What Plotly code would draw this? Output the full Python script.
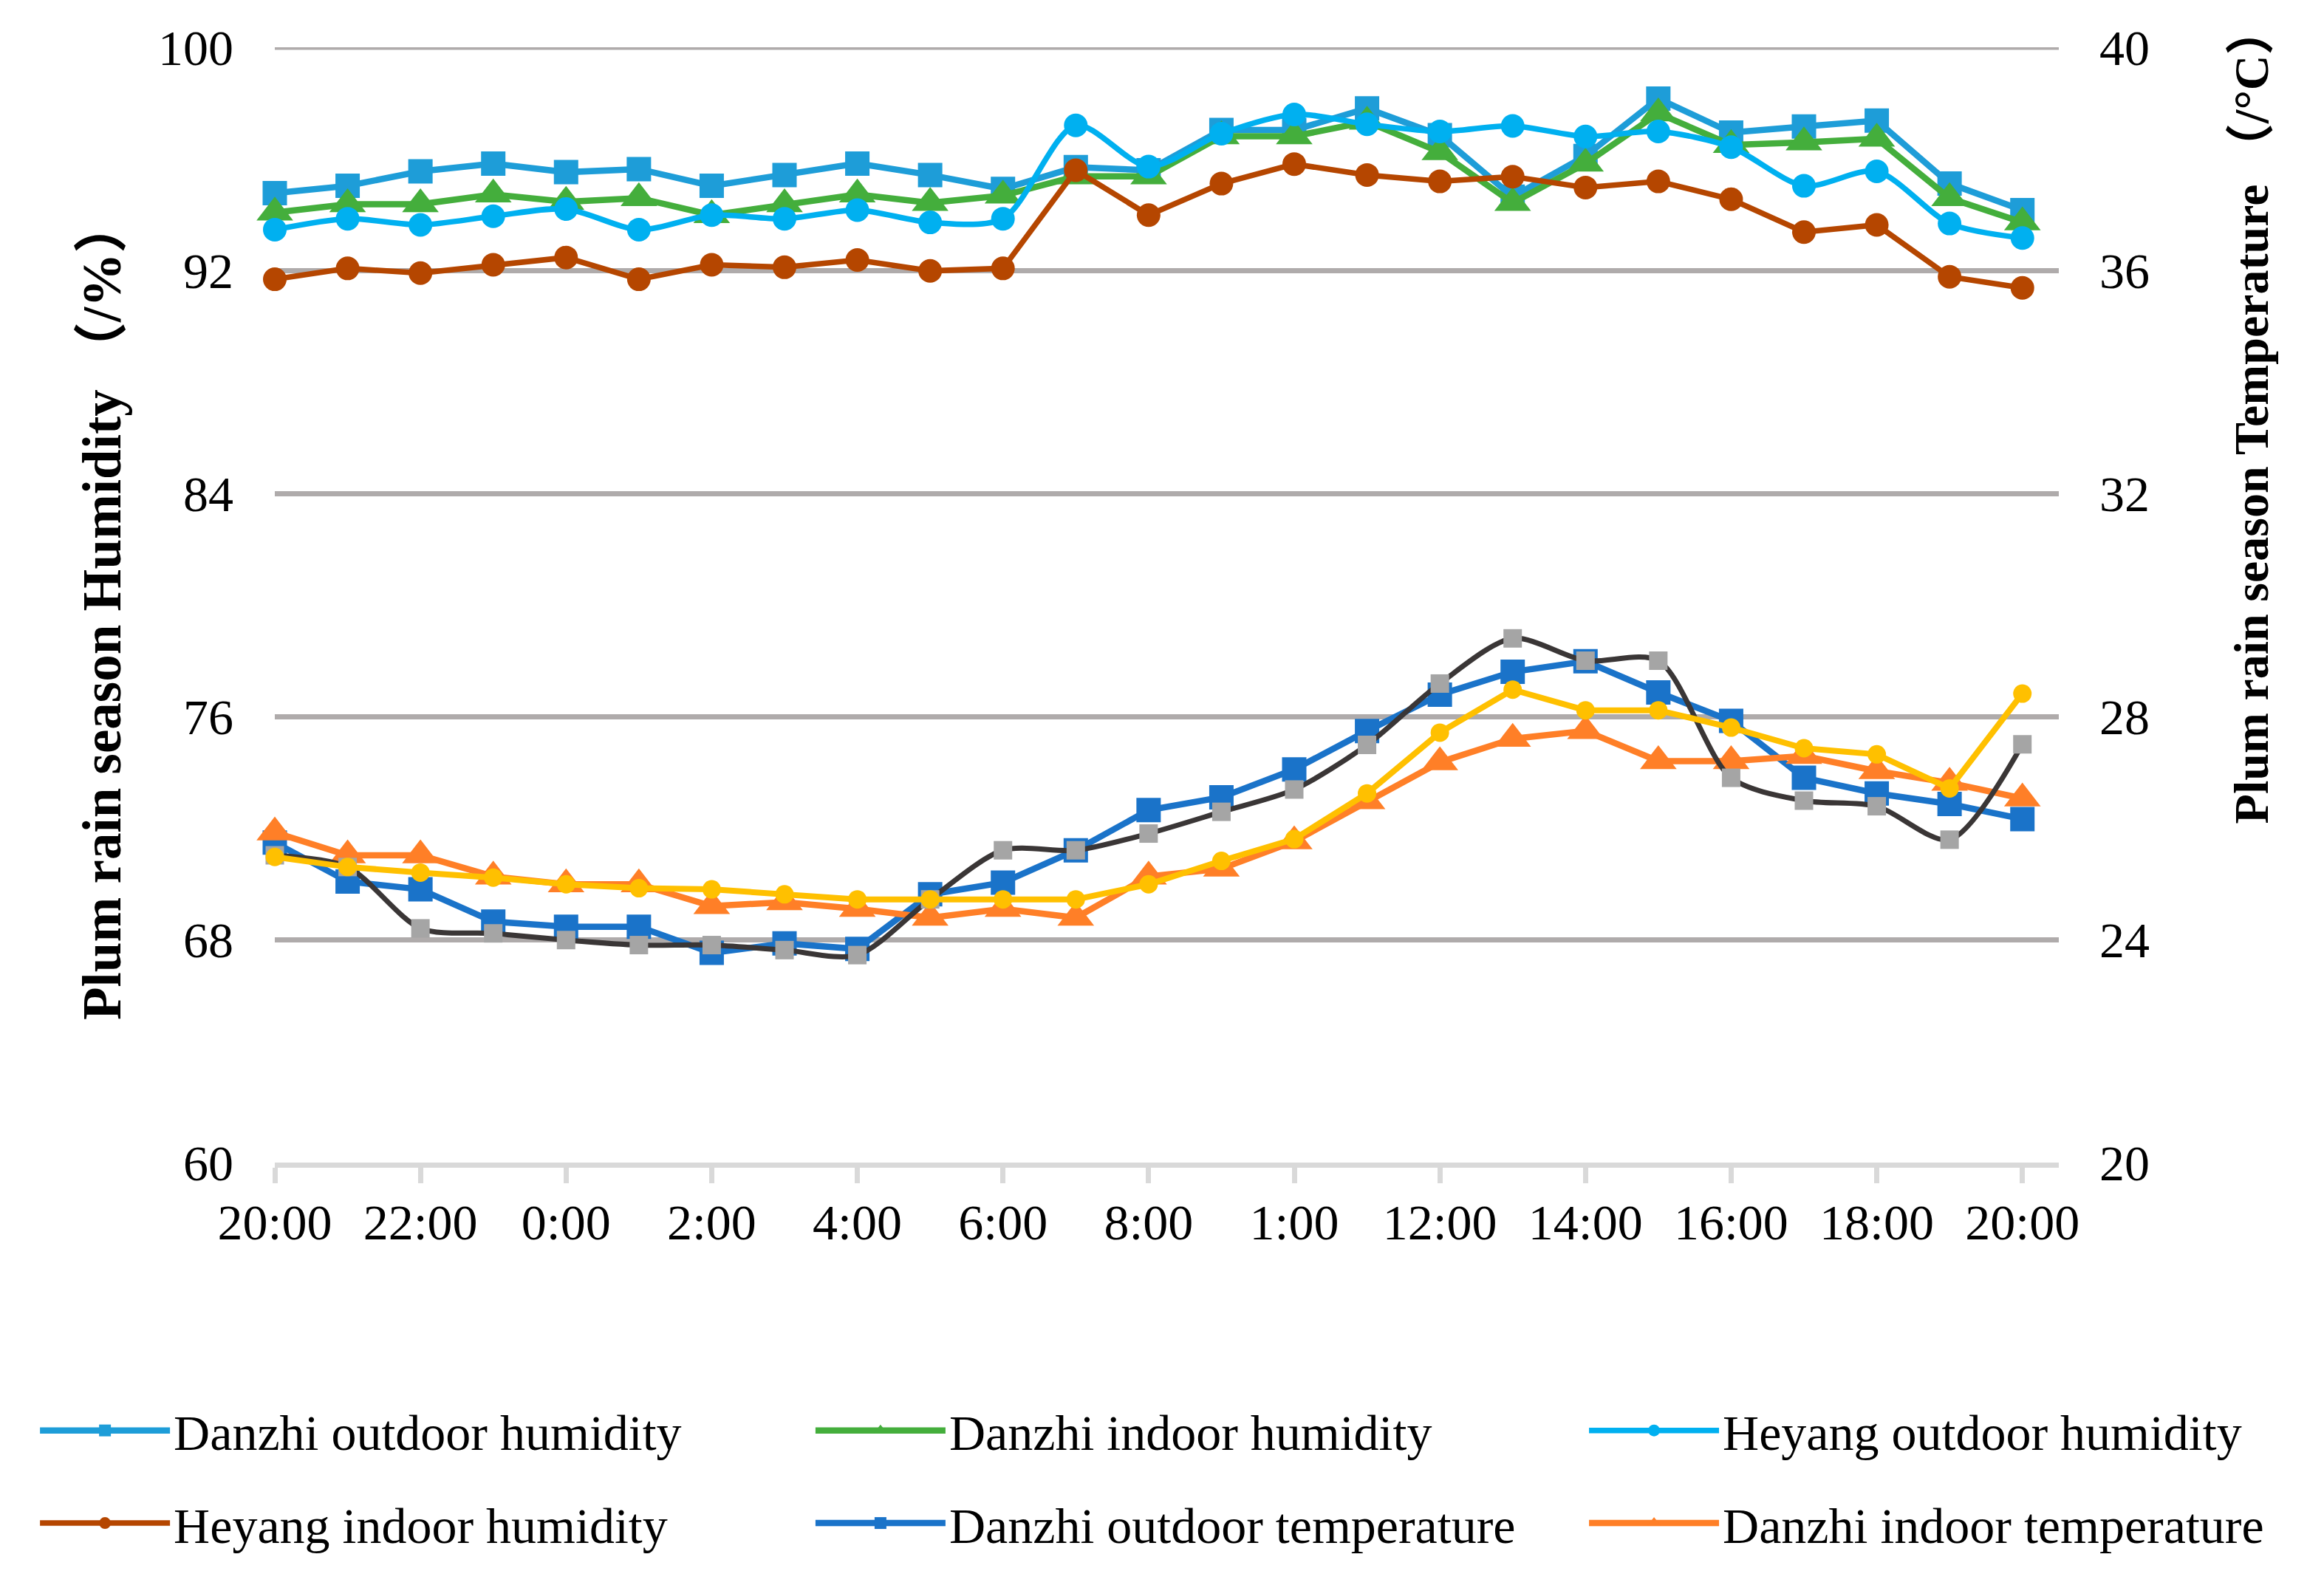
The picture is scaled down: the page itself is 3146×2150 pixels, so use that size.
import plotly.graph_objects as go

hours = ["20:00", "21:00", "22:00", "23:00", "0:00", "1:00", "2:00", "3:00", "4:00",
         "5:00", "6:00", "7:00", "8:00", "9:00", "10:00", "11:00", "12:00", "13:00",
         "14:00", "15:00", "16:00", "17:00", "18:00", "19:00", "20:00"]
tick_labels = ["20:00", "22:00", "0:00", "2:00", "4:00", "6:00", "8:00", "1:00",
               "12:00", "14:00", "16:00", "18:00", "20:00"]

danzhi_out_hum = [94.77, 95.03, 95.55, 95.83, 95.52, 95.63, 95.03, 95.42, 95.83, 95.42, 94.92, 95.70,
                  95.59, 97.03, 97.03, 97.81, 96.85, 94.64, 96.10, 98.16, 96.94, 97.16, 97.37, 95.11, 94.16]
danzhi_in_hum = [94.07, 94.37, 94.37, 94.72, 94.46, 94.59, 93.98, 94.37, 94.72, 94.42, 94.68, 95.37,
                 95.37, 96.81, 96.81, 97.33, 96.24, 94.42, 95.83, 97.63, 96.50, 96.59, 96.72, 94.59, 93.72]
heyang_out_hum = [93.46, 93.85, 93.63, 93.94, 94.20, 93.46, 93.98, 93.85, 94.16, 93.72, 93.85, 97.20,
                  95.72, 96.90, 97.59, 97.24, 96.98, 97.18, 96.80, 96.98, 96.42, 95.03, 95.55, 93.68, 93.16]
heyang_in_hum = [91.68, 92.07, 91.90, 92.20, 92.46, 91.68, 92.20, 92.11, 92.37, 91.98, 92.07, 95.59,
                 93.98, 95.11, 95.81, 95.42, 95.19, 95.36, 94.97, 95.19, 94.55, 93.37, 93.63, 91.77, 91.37]
danzhi_out_temp = [25.74, 25.04, 24.90, 24.32, 24.23, 24.23, 23.76, 23.93, 23.83, 24.81, 25.02, 25.60,
                   26.32, 26.55, 27.05, 27.74, 28.39, 28.80, 28.99, 28.43, 27.92, 26.90, 26.62, 26.43, 26.16]
danzhi_in_temp = [25.92, 25.51, 25.51, 25.13, 24.99, 24.99, 24.60, 24.67, 24.55, 24.39, 24.55, 24.39,
                  25.13, 25.27, 25.76, 26.48, 27.18, 27.60, 27.74, 27.20, 27.20, 27.29, 27.02, 26.81, 26.53]
heyang_out_temp = [25.51, 25.30, 24.20, 24.11, 23.99, 23.90, 23.90, 23.81, 23.72, 24.72, 25.60, 25.60,
                   25.90, 26.29, 26.69, 27.49, 28.59, 29.40, 29.00, 29.00, 26.90, 26.49, 26.39, 25.79, 27.50]
heyang_in_temp = [25.48, 25.30, 25.20, 25.11, 24.99, 24.92, 24.90, 24.81, 24.72, 24.72, 24.72, 24.72,
                  24.99, 25.41, 25.80, 26.62, 27.71, 28.48, 28.11, 28.11, 27.80, 27.43, 27.32, 26.71, 28.41]

x = list(range(len(hours)))
tick_positions = list(range(0, len(hours), 2))

FONT = "Liberation Serif, Times New Roman, Noto Sans CJK SC, serif"
GRID = "#AFABAB"

series = [
    # name, values, axis, line color, marker color, symbol, size, shape, legend, width
    ("Danzhi outdoor humidity", danzhi_out_hum, "y", "#1E9DD8", "#1E9DD8", "square", 33, "linear", "legend", 8.5),
    ("Danzhi indoor humidity", danzhi_in_hum, "y", "#44AE3C", "#44AE3C", "triangle-up", 43, "linear", "legend2", 8.5),
    ("Heyang outdoor humidity", heyang_out_hum, "y", "#00B0F0", "#00B0F0", "circle", 32, "spline", "legend3", 7.5),
    ("Heyang indoor humidity", heyang_in_hum, "y", "#B54600", "#B54600", "circle", 32, "linear", "legend", 7.5),
    ("Danzhi outdoor temperature", danzhi_out_temp, "y2", "#1A73C9", "#1A73C9", "square", 33, "linear", "legend2", 8.5),
    ("Danzhi indoor temperature", danzhi_in_temp, "y2", "#FF7F27", "#FF7F27", "triangle-up", 43, "linear", "legend3", 8.5),
    ("Heyang outdoor temperature", heyang_out_temp, "y2", "#3A3636", "#A5A5A5", "square", 25, "spline", None, 7),
    ("Heyang indoor temperature", heyang_in_temp, "y2", "#FFC000", "#FFC000", "circle", 25, "linear", None, 8),
]

fig = go.Figure()
for i, (name, vals, yax, lc, mc, sym, size, shape, leg, lw) in enumerate(series):
    kw = {}
    if leg is not None:
        kw["legend"] = leg
        kw["showlegend"] = True
    else:
        kw["showlegend"] = False
    fig.add_trace(go.Scatter(
        x=x, y=vals, name=name, yaxis=yax, mode="lines+markers",
        line=dict(color=lc, width=lw, shape=shape, smoothing=0.8),
        marker=dict(color=mc, symbol=sym, size=size, line=dict(width=0)),
        cliponaxis=False, legendgroup="g%d" % i, **kw))

legend_common = dict(orientation="v", xanchor="left", yanchor="top", y=-0.2066,
                     itemwidth=176, tracegroupgap=34, bgcolor="rgba(0,0,0,0)",
                     font=dict(family=FONT, size=68, color="black"))

fig.update_layout(
    width=3146, height=2150,
    margin=dict(l=372, r=359, t=64, b=576, autoexpand=False),
    paper_bgcolor="white", plot_bgcolor="white",
    font=dict(family=FONT, size=68, color="black"),
    xaxis=dict(range=[0, 24.5], tickmode="array", tickvals=tick_positions, ticktext=tick_labels,
               showgrid=False, zeroline=False, showline=True, linecolor="#D9D9D9", linewidth=7,
               ticks="outside", ticklen=21, tickwidth=7, tickcolor="#D9D9D9",
               ticklabelstandoff=-6, tickfont=dict(family=FONT, size=68, color="black")),
    yaxis=dict(range=[60, 100], tick0=60, dtick=8, showgrid=True, gridcolor=GRID, gridwidth=7,
               zeroline=False, showline=False, ticks="", ticklabelstandoff=55,
               tickfont=dict(family=FONT, size=68, color="black")),
    yaxis2=dict(range=[20, 40], tick0=20, dtick=4, overlaying="y", side="right", showgrid=False,
                zeroline=False, showline=False, ticks="", ticklabelstandoff=54,
                tickfont=dict(family=FONT, size=68, color="black")),
    legend=dict(x=-0.1337, **legend_common),
    legend2=dict(x=0.3010, **legend_common),
    legend3=dict(x=0.7346, **legend_common),
    shapes=[
        dict(type="line", xref="paper", yref="y", x0=0, x1=1, y0=100, y1=100,
             line=dict(color=GRID, width=7), layer="below"),
    ],
    annotations=[
        dict(text="<b>Plum rain season Humidity （/%）</b>", textangle=-90, xref="paper", yref="paper",
             x=-0.0969, y=0.496, xanchor="center", yanchor="middle", showarrow=False,
             font=dict(family=FONT, size=73, color="black")),
        dict(text="<b>Plum rain season Temperature （/°C）</b>", textangle=-90, xref="paper", yref="paper",
             x=1.1077, y=0.670, xanchor="center", yanchor="middle", showarrow=False,
             font=dict(family=FONT, size=66, color="black")),
    ],
)

fig.write_html("out.html", config={"displayModeBar": False},
               post_script="document.body.style.margin='0';")
